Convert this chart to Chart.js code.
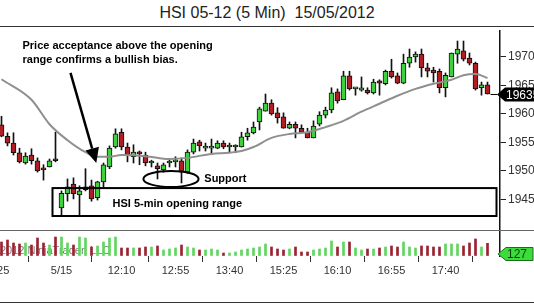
<!DOCTYPE html>
<html lang="en">
<head>
  <meta charset="UTF-8">
  <title>HSI 05-12 (5 Min) 15/05/2012</title>

  <script src="https://cdn.jsdelivr.net/npm/chart.js"></script>

  <style>
    body {
      margin: 0;
      background: #fff;
      font-family: "Liberation Sans", Arial, sans-serif;
    }

    .frame {
      position: relative;
      width: 534px;
      height: 307px;
      overflow: hidden;
    }

    .title {
      position: absolute;
      left: 0;
      top: 4px;
      width: 534px;
      text-align: center;
      font-size: 16px;
      color: #222;
      white-space: pre;
    }

    .rule {
      position: absolute;
      left: 0;
      width: 534px;
      height: 1px;
      background: #333;
      z-index: 2;
    }

    #priceChart { position: absolute; left: 0; top: 27px; }
    #volChart { position: absolute; left: 0; top: 231px; }
  </style>
</head>

<body>
  <div class="frame">
    <div class="title">HSI 05-12 (5 Min)  15/05/2012</div>
    <div class="rule" style="top:26px"></div>
    <canvas id="priceChart" width="534" height="204"></canvas>
    <div class="rule" style="top:230px; background:#666"></div>
    <canvas id="volChart" width="534" height="72"></canvas>
    <div class="rule" style="top:302px"></div>
  </div>

  <script>
    // 5-min bars, previous day close then 15/05 session
    const opens = [19581, 19561, 19549, 19532, 19514, 19528, 19518, 19505, 19507, 19519,
      19435, 19460, 19477, 19458, 19467, 19474, 19453, 19481, 19507, 19542,
      19568, 19542, 19525, 19532, 19528, 19514, 19509, 19502, 19514, 19516,
      19518, 19498, 19533, 19551, 19540, 19540, 19540, 19549, 19542, 19542,
      19542, 19560, 19567, 19586, 19605, 19619, 19602, 19595, 19575, 19582,
      19575, 19568, 19558, 19582, 19598, 19607, 19639, 19625, 19667, 19644,
      19642, 19642, 19637, 19658, 19653, 19675, 19667, 19654, 19689, 19700,
      19705, 19681, 19677, 19675, 19646, 19665, 19705, 19711, 19698, 19689,
      19646, 19651];
    const highs = [19596, 19567, 19567, 19540, 19532, 19539, 19523, 19511, 19521, 19568,
      19465, 19486, 19488, 19474, 19504, 19484, 19482, 19514, 19544, 19574,
      19574, 19549, 19546, 19535, 19533, 19519, 19514, 19514, 19519, 19525,
      19523, 19537, 19556, 19554, 19549, 19556, 19553, 19553, 19549, 19546,
      19568, 19575, 19586, 19612, 19635, 19625, 19611, 19602, 19586, 19586,
      19581, 19575, 19588, 19604, 19612, 19646, 19644, 19675, 19675, 19646,
      19665, 19646, 19661, 19660, 19677, 19696, 19672, 19705, 19714, 19709,
      19714, 19689, 19682, 19679, 19672, 19707, 19728, 19728, 19707, 19691,
      19656, 19656];
    const lows = [19560, 19544, 19528, 19514, 19512, 19512, 19498, 19484, 19507, 19516,
      19421, 19447, 19451, 19421, 19465, 19447, 19449, 19472, 19504, 19540,
      19537, 19516, 19514, 19511, 19509, 19507, 19486, 19498, 19507, 19507,
      19479, 19496, 19530, 19535, 19535, 19530, 19539, 19539, 19532, 19532,
      19542, 19554, 19565, 19572, 19605, 19598, 19584, 19575, 19574, 19558,
      19568, 19558, 19558, 19579, 19593, 19602, 19619, 19625, 19642, 19633,
      19640, 19635, 19635, 19633, 19651, 19663, 19653, 19653, 19682, 19691,
      19665, 19665, 19656, 19637, 19630, 19665, 19689, 19693, 19686, 19642,
      19633, 19635];
    const closes = [19561, 19549, 19532, 19516, 19526, 19518, 19500, 19502, 19518, 19518,
      19461, 19472, 19460, 19465, 19472, 19451, 19481, 19511, 19540, 19565,
      19542, 19528, 19533, 19530, 19514, 19514, 19504, 19511, 19514, 19516,
      19498, 19533, 19549, 19544, 19540, 19540, 19549, 19542, 19542, 19542,
      19560, 19567, 19577, 19609, 19619, 19600, 19593, 19575, 19582, 19575,
      19568, 19558, 19579, 19598, 19607, 19637, 19623, 19667, 19644, 19644,
      19646, 19637, 19656, 19654, 19675, 19665, 19654, 19689, 19700, 19705,
      19681, 19675, 19672, 19646, 19668, 19707, 19714, 19696, 19689, 19644,
      19651, 19635];
    const volumes = [140, 160, 130, 120, 130, 110, 180, 130, 110, 190,
      190, 130, 110, 190, 180, 90, 100, 140, 180, 190,
      80, 80, 80, 80, 90, 90, 100, 60, 70, 80,
      110, 90, 80, 60, 60, 70, 60, 30, 30, 40,
      60, 70, 80, 90, 120, 90, 70, 60, 70, 90,
      40, 40, 60, 70, 80, 150, 90, 140, 140, 80,
      60, 70, 70, 80, 90, 100, 90, 140, 90, 80,
      100, 100, 90, 90, 120, 120, 120, 100, 130, 170,
      90, 127];

    // moving average, sampled along the grey line
    const maBars = [0, 5, 8, 11, 14, 16, 18, 20, 24, 28, 31, 35, 38, 40, 42, 45, 48, 51, 54, 57, 60, 63, 66, 69, 72, 75, 77, 79, 81];
    const maValues = [19661, 19625, 19582, 19554, 19533, 19525, 19525, 19528, 19526, 19521, 19523, 19530, 19532, 19535, 19542,
      19558, 19565, 19568, 19577, 19588, 19604, 19618, 19632, 19644, 19653, 19660, 19668, 19670, 19663];

    // axis ticks
    const tickBars = [-1, 10, 20, 29, 38, 47, 56, 65, 74];
    const tickLabels = ['16:25', '5/15', '12:10', '12:55', '13:40', '15:25', '16:10', '16:55', '17:40'];
    const yTicks = [19450, 19500, 19550, 19600, 19650, 19700];

    // annotations, in bar / price units
    const notes = {
      box: { from: 8.5, to: 82.5, top: 19470, bottom: 19421 },
      ellipse: { x: 28.25, y: 19486, rx: 4.6, ry: 14 },
      arrow: { x0: 11.5, y0: 19672, x1: 15.8, y1: 19514 },
      texts: [
        { text: 'Price acceptance above the opening', x: 3.5, y: 19714 },
        { text: 'range confirms a bullish bias.', x: 3.5, y: 19689 },
        { text: 'Support', x: 33.8, y: 19481 },
        { text: 'HSI 5-min opening range', x: 18.5, y: 19437 }
      ]
    };

    const FONT = '"Liberation Sans", Arial, sans-serif';
    Chart.defaults.font.family = FONT;

    const GREEN = '#3fcf3f';
    const RED = '#b01e24';
    const X_MIN = -0.25;
    const X_MAX = 83.0833;

    const bars = opens.map((_, i) => i);
    const up = bars.map(i => closes[i] >= opens[i]);

    const fixAxis = w => s => {
      s.width = w;
      s.paddingTop = 0;
      s.paddingBottom = 0;
    };

    const priceNotes = {
      id: 'priceNotes',
      afterDatasetsDraw(chart) {
        const { ctx, chartArea, scales: { x, y } } = chart;
        const px = v => x.getPixelForValue(v);
        const py = v => y.getPixelForValue(v);
        ctx.save();
        ctx.strokeStyle = '#000';
        ctx.fillStyle = '#000';
        ctx.lineWidth = 2;

        // opening range box
        const b = notes.box;
        ctx.strokeRect(px(b.from), py(b.top), px(b.to) - px(b.from), py(b.bottom) - py(b.top));

        // support ellipse
        const e = notes.ellipse;
        ctx.beginPath();
        ctx.ellipse(px(e.x), py(e.y), px(e.x + e.rx) - px(e.x), py(e.y - e.ry) - py(e.y), 0, 0, Math.PI * 2);
        ctx.stroke();

        // arrow
        const a = notes.arrow;
        const x0 = px(a.x0), y0 = py(a.y0), x1 = px(a.x1), y1 = py(a.y1);
        const ang = Math.atan2(y1 - y0, x1 - x0);
        const hx = x1 - 15 * Math.cos(ang), hy = y1 - 15 * Math.sin(ang);
        ctx.lineWidth = 2.5;
        ctx.beginPath();
        ctx.moveTo(x0, y0);
        ctx.lineTo(hx, hy);
        ctx.stroke();
        ctx.beginPath();
        ctx.moveTo(x1, y1);
        ctx.lineTo(hx + 7 * Math.sin(ang), hy - 7 * Math.cos(ang));
        ctx.lineTo(hx - 7 * Math.sin(ang), hy + 7 * Math.cos(ang));
        ctx.closePath();
        ctx.fill();

        // labels
        ctx.font = 'bold 11px ' + FONT;
        ctx.textBaseline = 'alphabetic';
        notes.texts.forEach(t => ctx.fillText(t.text, px(t.x), py(t.y)));

        // last price marker
        const last = closes[closes.length - 1];
        const ly = Math.round(py(last)) + 0.5;
        const r = chartArea.right;
        ctx.lineWidth = 1;
        ctx.beginPath();
        ctx.moveTo(px(closes.length - 1) + 3, ly);
        ctx.lineTo(r - 3, ly);
        ctx.stroke();
        ctx.beginPath();
        ctx.moveTo(r - 3, ly);
        ctx.lineTo(r + 5, ly - 7);
        ctx.lineTo(r + 40, ly - 7);
        ctx.lineTo(r + 40, ly + 7);
        ctx.lineTo(r + 5, ly + 7);
        ctx.closePath();
        ctx.fill();
        ctx.fillStyle = '#fff';
        ctx.font = '12px ' + FONT;
        ctx.textBaseline = 'middle';
        ctx.fillText(String(last), r + 6, ly + 1);
        ctx.restore();
      }
    };

    const volNotes = {
      id: 'volNotes',
      beforeDatasetsDraw(chart) {
        const { ctx, chartArea } = chart;
        ctx.save();
        ctx.fillStyle = '#777';
        ctx.font = '11px ' + FONT;
        ctx.fillText('2012 NinjaTrader, LLC', chartArea.left, chartArea.bottom - 2);
        ctx.restore();
      },
      afterDraw(chart) {
        const { ctx, chartArea } = chart;
        const r = chartArea.right;
        const vy = chartArea.bottom - 2;
        ctx.save();
        ctx.beginPath();
        ctx.moveTo(r - 2, vy);
        ctx.lineTo(r + 6, vy - 6.5);
        ctx.lineTo(r + 33, vy - 6.5);
        ctx.lineTo(r + 33, vy + 6.5);
        ctx.lineTo(r + 6, vy + 6.5);
        ctx.closePath();
        ctx.fillStyle = '#3ddc3d';
        ctx.fill();
        ctx.strokeStyle = '#1a6e1a';
        ctx.lineWidth = 1;
        ctx.stroke();
        ctx.fillStyle = '#0d3d0d';
        ctx.font = '12px ' + FONT;
        ctx.textBaseline = 'middle';
        ctx.fillText(String(volumes[volumes.length - 1]), r + 7, vy + 1);
        ctx.restore();
      }
    };

    // price panel
    new Chart(document.getElementById('priceChart'), {
      type: 'bar',
      data: {
        datasets: [{
          type: 'line',
          data: maBars.map((b, k) => ({ x: b, y: maValues[k] })),
          borderColor: '#8f8f8f',
          borderWidth: 2,
          pointRadius: 0,
          cubicInterpolationMode: 'monotone',
          order: 0
        }, {
          data: bars.map(i => ({ x: i, y: [opens[i], closes[i]] })),
          backgroundColor: up.map(u => u ? GREEN : RED),
          borderColor: '#111',
          borderWidth: 1,
          borderSkipped: false,
          barThickness: 5,
          minBarLength: 2,
          grouped: false,
          order: 1
        }, {
          data: bars.map(i => ({ x: i, y: [lows[i], highs[i]] })),
          backgroundColor: '#111',
          borderWidth: 0,
          barThickness: 1,
          grouped: false,
          order: 2
        }]
      },
      options: {
        responsive: false,
        animation: false,
        events: [],
        layout: { padding: { top: 4, left: 0, right: 0, bottom: 0 } },
        plugins: { legend: { display: false }, tooltip: { enabled: false } },
        scales: {
          x: { type: 'linear', display: false, offset: false, min: X_MIN, max: X_MAX },
          y: {
            position: 'right',
            min: 19394.7,
            max: 19745.6,
            afterBuildTicks: s => { s.ticks = yTicks.map(v => ({ value: v })); },
            afterFit: fixAxis(34),
            ticks: { color: '#333', padding: 2, font: { size: 12 }, callback: v => String(v) },
            grid: { drawOnChartArea: false, drawTicks: true, tickLength: 6, color: '#222' },
            border: { display: true, color: '#111', width: 1.5 }
          }
        }
      },
      plugins: [priceNotes]
    });

    // volume panel with time axis
    new Chart(document.getElementById('volChart'), {
      type: 'bar',
      data: {
        datasets: [{
          data: bars.map(i => ({ x: i, y: volumes[i] })),
          backgroundColor: up.map(u => u ? '#5fd65f' : '#9b2330'),
          borderWidth: 0,
          barThickness: 2,
          grouped: false
        }]
      },
      options: {
        responsive: false,
        animation: false,
        events: [],
        layout: { padding: 0 },
        plugins: { legend: { display: false }, tooltip: { enabled: false } },
        scales: {
          x: {
            type: 'linear',
            offset: false,
            min: X_MIN,
            max: X_MAX,
            afterBuildTicks: s => { s.ticks = tickBars.map(v => ({ value: v })); },
            afterFit: s => { s.height = 47; s.paddingLeft = 0; s.paddingRight = 0; },
            ticks: {
              autoSkip: false,
              maxRotation: 0,
              padding: 2,
              color: '#333',
              font: { size: 11 },
              callback: (v, k) => tickLabels[k]
            },
            grid: { drawOnChartArea: false, drawTicks: true, tickLength: 6, color: '#333' },
            border: { display: false }
          },
          y: {
            position: 'right',
            min: 0,
            max: 250,
            afterFit: fixAxis(34),
            ticks: { display: false },
            grid: { drawOnChartArea: false, drawTicks: false },
            border: { display: true, color: '#111', width: 1.5 }
          }
        }
      },
      plugins: [volNotes]
    });
  </script>
</body>
</html>
